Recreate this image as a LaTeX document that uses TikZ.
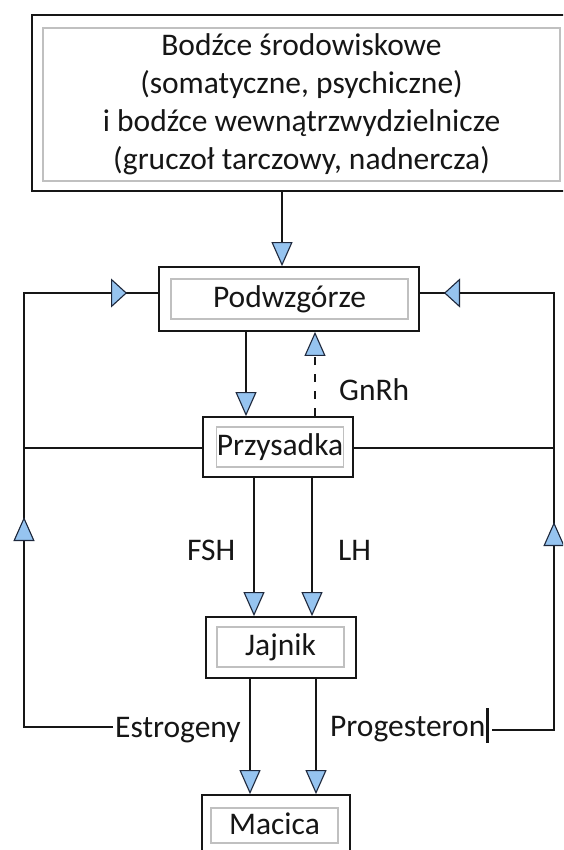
\documentclass[tikz,border=0pt]{standalone}
\usepackage{fontspec}
\setmainfont{Carlito}
\usetikzlibrary{arrows.meta,decorations.markings}
\definecolor{tipfill}{RGB}{150,196,240}
\definecolor{tipline}{RGB}{30,40,60}
\definecolor{inbox}{RGB}{192,192,192}
\definecolor{ink}{RGB}{22,22,22}
\tikzset{
  vtri/.tip={Triangle[width=21pt,length=24pt,fill=tipfill,color=tipline,line width=1.1pt]},
  htri/.tip={Triangle[width=29pt,length=16pt,fill=tipfill,color=tipline,line width=1.1pt]},
  outerbox/.style={draw=ink,line width=1.8pt,inner sep=0pt},
  innerbox/.style={draw=inbox,line width=1.1pt,inner sep=0pt,text=ink},
  onelabel/.style={innerbox,text height=17pt,text depth=0pt},
  lab/.style={inner sep=0pt,text=ink},
  conn/.style={draw=ink,line width=1.6pt},
  gdash/.style={dash pattern=on 8pt off 9pt}
}
\begin{document}
\begin{tikzpicture}[x=1pt,y=-1pt,font=\fontsize{31.5}{38}\selectfont]
\useasboundingbox (0,0) rectangle (563,850);
\clip (0,0) rectangle (563,850);
\fill[white] (0,0) rectangle (563,850);

% boxes
\node[outerbox,minimum width=545pt,minimum height=176pt] (top) at (304.5,103) {};
\node[innerbox,minimum width=517pt,minimum height=153pt,align=center] (topin) at (301.5,104.5)
  {Bodźce środowiskowe\\(somatyczne, psychiczne)\\i bodźce wewnątrzwydzielnicze\\(gruczoł tarczowy, nadnercza)};

\node[outerbox,minimum width=260pt,minimum height=64pt] (pod) at (289,299) {};
\node[onelabel,minimum width=237pt,minimum height=40pt] (podin) at (289.5,299) {Podwzgórze};

\node[outerbox,minimum width=150pt,minimum height=60pt] (prz) at (278,447) {};
\node[onelabel,minimum width=126pt,minimum height=40pt] (przin) at (280,447) {Przysadka};

\node[outerbox,minimum width=150pt,minimum height=61pt] (jaj) at (281,647.5) {};
\node[onelabel,minimum width=127pt,minimum height=40pt] (jajin) at (280.5,647) {Jajnik};

\node[outerbox,minimum width=148pt,minimum height=75pt] (mac) at (276,832.5) {};
\node[onelabel,minimum width=127pt,minimum height=35pt] (macin) at (274.5,825.5) {Macica};

% labels
\node[lab,anchor=base west] (gnrh) at (339,400.7) {GnRh};
\node[lab,anchor=base west] (fsh) at (187,560.7) {FSH};
\node[lab,anchor=base west] (lh) at (338,560.7) {LH};
\node[lab,anchor=base west] (estro) at (115,737) {Estrogeny};
\node[lab,anchor=base west] (prog) at (330,736) {Progesteron};

% x positions of vertical connectors
\coordinate (xA) at (282,0);
\coordinate (xB) at (246,0);
\coordinate (xC) at (315,0);
\coordinate (xD) at (254,0);
\coordinate (xE) at (312,0);
\coordinate (xF) at (250,0);
\coordinate (xG) at (316,0);

\draw[conn,-{vtri}] (top.south -| xA) -- (pod.north -| xA);
\draw[conn,-{vtri}] (pod.south -| xB) -- (prz.north -| xB);
\draw[conn,gdash,-{vtri}] (prz.north -| xC) -- (pod.south -| xC);
\draw[conn,-{vtri}] (prz.south -| xD) -- (jaj.north -| xD);
\draw[conn,-{vtri}] (prz.south -| xE) -- (jaj.north -| xE);
\draw[conn,-{vtri}] (jaj.south -| xF) -- (mac.north -| xF);
\draw[conn,-{vtri}] (jaj.south -| xG) -- (mac.north -| xG);

% left feedback (estrogens)
\coordinate (cL0) at (113,727);
\coordinate (cL1) at (24,727);
\coordinate (cL2) at (24,293);
\coordinate (cL3) at (24,448);
\draw[conn,postaction={decorate},decoration={markings,
    mark=at position 299pt with {\arrow{vtri}},
    mark=at position 626pt with {\arrow{htri}}}]
  (cL0) -- (cL1) -- (cL2) -- (cL2 -| pod.west);
\draw[conn] (cL3) -- (cL3 -| prz.west);

% right feedback (progesterone)
\coordinate (cR0) at (492,730);
\coordinate (cR1) at (554,730);
\coordinate (cR2) at (554,293);
\coordinate (cR3) at (554,448);
\draw[conn,postaction={decorate},decoration={markings,
    mark=at position 270pt with {\arrow{vtri}},
    mark=at position 609pt with {\arrow{htri}}}]
  (cR0) -- (cR1) -- (cR2) -- (cR2 -| pod.east);
\draw[conn] (prz.east |- cR3) -- (cR3);

% text cursor mark after "Progesteron"
\draw[ink,line width=3pt] (487,708) -- (487,743);
\end{tikzpicture}
\end{document}
